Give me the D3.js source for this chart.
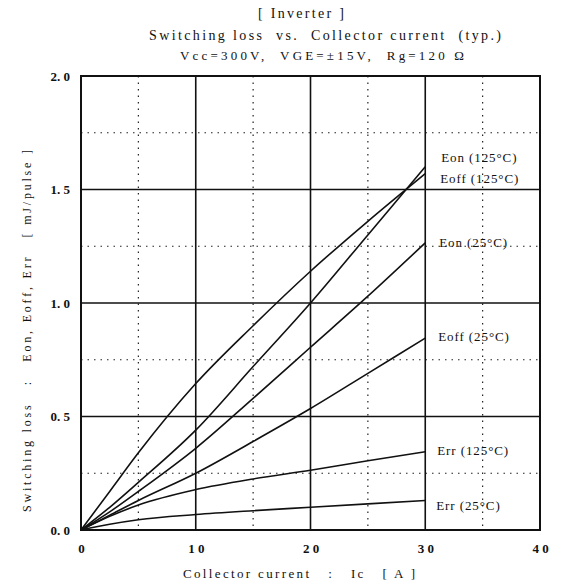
<!DOCTYPE html>
<html>
<head>
<meta charset="utf-8">
<script src="https://cdn.jsdelivr.net/npm/d3@7/dist/d3.min.js"></script>
<style>
  html, body { margin: 0; padding: 0; background: #fff; }
  svg { display: block; }
  text { font-family: "Liberation Serif", "DejaVu Serif", serif; fill: #111; white-space: pre; }
</style>
</head>
<body>
<svg id="chart" width="564" height="588"></svg>
<script>
// Collector current (A) at which each loss curve is sampled
const currents = [0, 2.5, 5, 10, 15, 20, 25, 30];

// Switching energy per pulse (mJ)
const eon125  = [0, 0.17, 0.34, 0.645, 0.90, 1.14, 1.36, 1.57];
const eoff125 = [0, 0.10, 0.21, 0.44, 0.72, 1.00, 1.30, 1.60];
const eon25   = [0, 0.08, 0.17, 0.36, 0.58, 0.805, 1.03, 1.265];
const eoff25  = [0, 0.065, 0.13, 0.25, 0.39, 0.535, 0.69, 0.845];
const err125  = [0, 0.06, 0.11, 0.178, 0.225, 0.263, 0.305, 0.345];
const err25   = [0, 0.025, 0.045, 0.068, 0.085, 0.10, 0.115, 0.13];

const seriesNames = ["Eon (125°C)", "Eoff (125°C)", "Eon (25°C)", "Eoff (25°C)", "Err (125°C)", "Err (25°C)"];
const seriesValues = [eon125, eoff125, eon25, eoff25, err125, err25];

const xTicks = [0, 10, 20, 30, 40];
const xTickLabels = ["0", "1 0", "2 0", "3 0", "4 0"];
const yTicks = [0, 0.5, 1.0, 1.5, 2.0];
const yTickLabels = ["0. 0", "0. 5", "1. 0", "1. 5", "2. 0"];

(function () {
  const svg = d3.select("#chart");
  const pLeft = 81, pRight = 540, pTop = 76, pBottom = 530;

  const x = d3.scaleLinear().domain([0, 40]).range([pLeft, pRight]);
  const y = d3.scaleLinear().domain([0, 2]).range([pBottom, pTop]);

  // minor (dotted) grid
  const minorX = [5, 15, 25, 35];
  const minorY = [0.25, 0.75, 1.25, 1.75];
  const grid = svg.append("g");
  grid.selectAll(".mx").data(minorX).enter().append("line")
    .attr("x1", d => x(d)).attr("x2", d => x(d))
    .attr("y1", pTop).attr("y2", pBottom)
    .attr("stroke", "#222").attr("stroke-width", 1.2)
    .attr("stroke-dasharray", "1.5,5");
  grid.selectAll(".my").data(minorY).enter().append("line")
    .attr("x1", pLeft).attr("x2", pRight)
    .attr("y1", d => y(d)).attr("y2", d => y(d))
    .attr("stroke", "#222").attr("stroke-width", 1.2)
    .attr("stroke-dasharray", "1.5,5");

  // major (solid) grid
  grid.selectAll(".Mx").data([10, 20, 30]).enter().append("line")
    .attr("x1", d => x(d)).attr("x2", d => x(d))
    .attr("y1", pTop).attr("y2", pBottom)
    .attr("stroke", "#111").attr("stroke-width", 1.6);
  grid.selectAll(".My").data([0.5, 1.0, 1.5]).enter().append("line")
    .attr("x1", pLeft).attr("x2", pRight)
    .attr("y1", d => y(d)).attr("y2", d => y(d))
    .attr("stroke", "#111").attr("stroke-width", 1.6);

  // frame
  svg.append("rect")
    .attr("x", pLeft).attr("y", pTop)
    .attr("width", pRight - pLeft).attr("height", pBottom - pTop)
    .attr("fill", "none").attr("stroke", "#111").attr("stroke-width", 2);

  // axes (labels only; frame and grid carry the lines)
  const xAxis = d3.axisBottom(x).tickValues(xTicks).tickSize(0)
    .tickFormat((d, i) => xTickLabels[i]);
  svg.append("g").attr("transform", `translate(0,${pBottom + 11})`).call(xAxis)
    .call(g => g.select(".domain").remove())
    .call(g => g.selectAll("text").attr("font-size", 13).attr("font-weight", "bold")
      .attr("font-family", "Liberation Serif, serif").attr("fill", "#111"));

  const yAxis = d3.axisLeft(y).tickValues(yTicks).tickSize(0)
    .tickFormat((d, i) => yTickLabels[i]);
  svg.append("g").attr("transform", `translate(${pLeft - 8},0)`).call(yAxis)
    .call(g => g.select(".domain").remove())
    .call(g => g.selectAll("text").attr("font-size", 13).attr("font-weight", "bold")
      .attr("font-family", "Liberation Serif, serif").attr("fill", "#111"));

  // loss curves
  const line = d3.line()
    .x((d, i) => x(currents[i]))
    .y(d => y(d))
    .curve(d3.curveMonotoneX);

  svg.append("g").selectAll("path").data(seriesValues).enter().append("path")
    .attr("d", d => line(d))
    .attr("fill", "none").attr("stroke", "#111").attr("stroke-width", 1.6);

  // curve labels beside the 30 A end points
  const labelDy = [-15, 13, 1, 0, 0, 7];
  svg.append("g").selectAll("text").data(seriesNames).enter().append("text")
    .attr("x", (d, i) => x(30) + 16 - i)
    .attr("y", (d, i) => y(seriesValues[i][seriesValues[i].length - 1]) + labelDy[i])
    .attr("dominant-baseline", "middle")
    .attr("font-size", 13)
    .attr("letter-spacing", 0.9)
    .text(d => d);

  // titles
  svg.append("text").attr("x", 301).attr("y", 15).attr("text-anchor", "middle")
    .attr("dominant-baseline", "middle").attr("font-size", 14)
    .attr("textLength", 86).attr("lengthAdjust", "spacing")
    .text("[ Inverter ]");
  svg.append("text").attr("x", 325).attr("y", 37).attr("text-anchor", "middle")
    .attr("dominant-baseline", "middle").attr("font-size", 14)
    .attr("textLength", 352).attr("lengthAdjust", "spacing")
    .text("Switching loss  vs.  Collector current  (typ.)");
  svg.append("text").attr("x", 322).attr("y", 57).attr("text-anchor", "middle")
    .attr("dominant-baseline", "middle").attr("font-size", 13)
    .attr("textLength", 284).attr("lengthAdjust", "spacing")
    .text("Vcc=300V,  VGE=±15V,  Rg=120 Ω");

  // axis titles
  svg.append("text").attr("x", 299).attr("y", 575).attr("text-anchor", "middle")
    .attr("dominant-baseline", "middle").attr("font-size", 13)
    .attr("textLength", 232).attr("lengthAdjust", "spacing")
    .text("Collector current   :   Ic   [ A ]");
  svg.append("text")
    .attr("transform", "translate(28,331) rotate(-90)")
    .attr("text-anchor", "middle").attr("dominant-baseline", "middle")
    .attr("font-size", 12)
    .attr("textLength", 362).attr("lengthAdjust", "spacing")
    .text("Switching loss   :   Eon, Eoff, Err   [ mJ/pulse ]");
})();
</script>
</body>
</html>
